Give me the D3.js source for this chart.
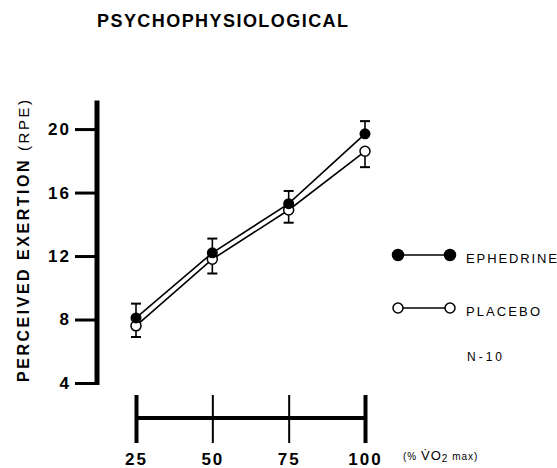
<!DOCTYPE html>
<html>
<head>
<meta charset="utf-8">
<script src="https://cdn.jsdelivr.net/npm/d3@7"></script>
<style>
  body { margin: 0; background: #fff; }
  svg { display: block; font-family: "Liberation Sans", Arial, sans-serif; }
</style>
</head>
<body>
<div id="chart"></div>
<script>
// data
const workloads = [25, 50, 75, 100];            // % VO2 max
const ephedrine = [8.1, 12.2, 15.3, 19.7];      // RPE means
const ephedrineErr = [0.9, 0.9, 0.8, 0.8];      // drawn upward
const placebo = [7.6, 11.8, 14.9, 18.6];
const placeboErr = [0.7, 0.9, 0.8, 1.0];        // drawn downward
const yTicks = [4, 8, 12, 16, 20];
const legendNames = ['EPHEDRINE', 'PLACEBO'];

const width = 557, height = 468;

const svg = d3.select('#chart')
  .append('svg')
  .attr('width', width)
  .attr('height', height);

// scales
const xScale = d3.scaleLinear()
  .domain([25, 100])
  .range([136, 365]);

const yScale = d3.scaleLinear()
  .domain([4, 21.8])
  .range([383, 100.5]);

// title
svg.append('text')
  .attr('x', 97)
  .attr('y', 27)
  .attr('font-size', 18)
  .attr('font-weight', 'bold')
  .attr('textLength', 251)
  .attr('lengthAdjust', 'spacing')
  .text('PSYCHOPHYSIOLOGICAL');

// y axis
const yAxis = d3.axisLeft(yScale)
  .tickValues(yTicks)
  .tickSize(22)
  .tickSizeOuter(0)
  .tickPadding(4);

const gy = svg.append('g')
  .attr('class', 'axis y-axis')
  .attr('transform', 'translate(97,0)')
  .call(yAxis);

gy.select('.domain')
  .attr('stroke', '#000')
  .attr('stroke-width', 5)
  .attr('d', 'M0,' + (yScale(4) + 2) + 'V' + yScale.range()[1]);
gy.selectAll('.tick line').attr('stroke', '#000').attr('stroke-width', 3);
gy.selectAll('.tick text')
  .attr('fill', '#000')
  .attr('font-size', 17)
  .attr('font-weight', 'bold')
  .attr('font-family', '"Liberation Sans", Arial, sans-serif')
  .attr('letter-spacing', 2)
  .attr('x', -26);

// y label
const yLab = svg.append('text')
  .attr('transform', 'translate(29,241) rotate(-90)')
  .attr('text-anchor', 'middle')
  .attr('font-size', 16)
  .attr('textLength', 282)
  .attr('lengthAdjust', 'spacing');
yLab.append('tspan').attr('font-weight', 'bold').text('PERCEIVED EXERTION ');
yLab.append('tspan').attr('font-weight', 'normal').attr('font-size', 15).text('(RPE)');

// x axis (separate bar below)
const xAxis = d3.axisBottom(xScale)
  .tickValues(workloads)
  .tickSize(25)
  .tickSizeOuter(0);

const gx = svg.append('g')
  .attr('class', 'axis x-axis')
  .attr('transform', 'translate(0,418)')
  .call(xAxis);

gx.select('.domain')
  .attr('stroke', '#000')
  .attr('stroke-width', 4)
  .attr('d', 'M' + xScale(25) + ',0H' + xScale(100));
gx.selectAll('.tick line')
  .attr('stroke', '#000')
  .attr('y1', -23)
  .attr('y2', 25)
  .attr('stroke-width', (d, i) => (i === 0 || i === workloads.length - 1) ? 4 : 2);
gx.selectAll('.tick text')
  .attr('fill', '#000')
  .attr('font-size', 17)
  .attr('font-weight', 'bold')
  .attr('font-family', '"Liberation Sans", Arial, sans-serif')
  .attr('letter-spacing', 2)
  .attr('y', 47)
  .attr('dy', 0);

// x unit label
const xUnit = svg.append('text')
  .attr('x', 403)
  .attr('y', 460)
  .attr('font-size', 10)
  .attr('letter-spacing', 1);
xUnit.append('tspan').text('(% ');
xUnit.append('tspan').attr('font-size', 13).text('V\u0307O');
xUnit.append('tspan').attr('font-size', 10).attr('dy', 2).text('2');
xUnit.append('tspan').attr('dy', -2).text(' max)');

// series
const line = d3.line()
  .x((d, i) => xScale(workloads[i]))
  .y(d => yScale(d));

svg.append('path')
  .datum(placebo)
  .attr('fill', 'none')
  .attr('stroke', '#000')
  .attr('stroke-width', 1.6)
  .attr('d', line);

svg.append('path')
  .datum(ephedrine)
  .attr('fill', 'none')
  .attr('stroke', '#000')
  .attr('stroke-width', 1.6)
  .attr('d', line);

// error bars
function errorBars(values, errs, dir) {
  const g = svg.append('g');
  values.forEach((v, i) => {
    const x = xScale(workloads[i]);
    const yEnd = yScale(v + dir * errs[i]);
    g.append('line')
      .attr('x1', x).attr('x2', x)
      .attr('y1', yScale(v)).attr('y2', yEnd)
      .attr('stroke', '#000').attr('stroke-width', 1.6);
    g.append('line')
      .attr('x1', x - 5).attr('x2', x + 5)
      .attr('y1', yEnd).attr('y2', yEnd)
      .attr('stroke', '#000').attr('stroke-width', 2);
  });
}
errorBars(ephedrine, ephedrineErr, 1);
errorBars(placebo, placeboErr, -1);

// markers
svg.selectAll('.pla')
  .data(placebo)
  .enter().append('circle')
  .attr('class', 'pla')
  .attr('cx', (d, i) => xScale(workloads[i]))
  .attr('cy', d => yScale(d))
  .attr('r', 5)
  .attr('fill', '#fff')
  .attr('stroke', '#000')
  .attr('stroke-width', 1.5);

svg.selectAll('.eph')
  .data(ephedrine)
  .enter().append('circle')
  .attr('class', 'eph')
  .attr('cx', (d, i) => xScale(workloads[i]))
  .attr('cy', d => yScale(d))
  .attr('r', 5.5)
  .attr('fill', '#000');

// legend
const legendRows = [
  {name: legendNames[0], y: 255, fill: '#000', r: 5.5, tl: 91},
  {name: legendNames[1], y: 308, fill: '#fff', r: 5, tl: 74}
];
legendRows.forEach(row => {
  svg.append('line')
    .attr('x1', 398).attr('x2', 450)
    .attr('y1', row.y).attr('y2', row.y)
    .attr('stroke', '#000').attr('stroke-width', 1.5);
  [398, 450].forEach(cx => {
    svg.append('circle')
      .attr('cx', cx).attr('cy', row.y).attr('r', row.r)
      .attr('fill', row.fill)
      .attr('stroke', '#000').attr('stroke-width', 1.5);
  });
  svg.append('text')
    .attr('x', 466)
    .attr('y', row.y + 8)
    .attr('font-size', 13)
    .attr('textLength', row.tl)
    .attr('lengthAdjust', 'spacing')
    .text(row.name);
});

svg.append('text')
  .attr('x', 467)
  .attr('y', 361)
  .attr('font-size', 12)
  .attr('textLength', 35)
  .attr('lengthAdjust', 'spacing')
  .text('N-10');
</script>
</body>
</html>
